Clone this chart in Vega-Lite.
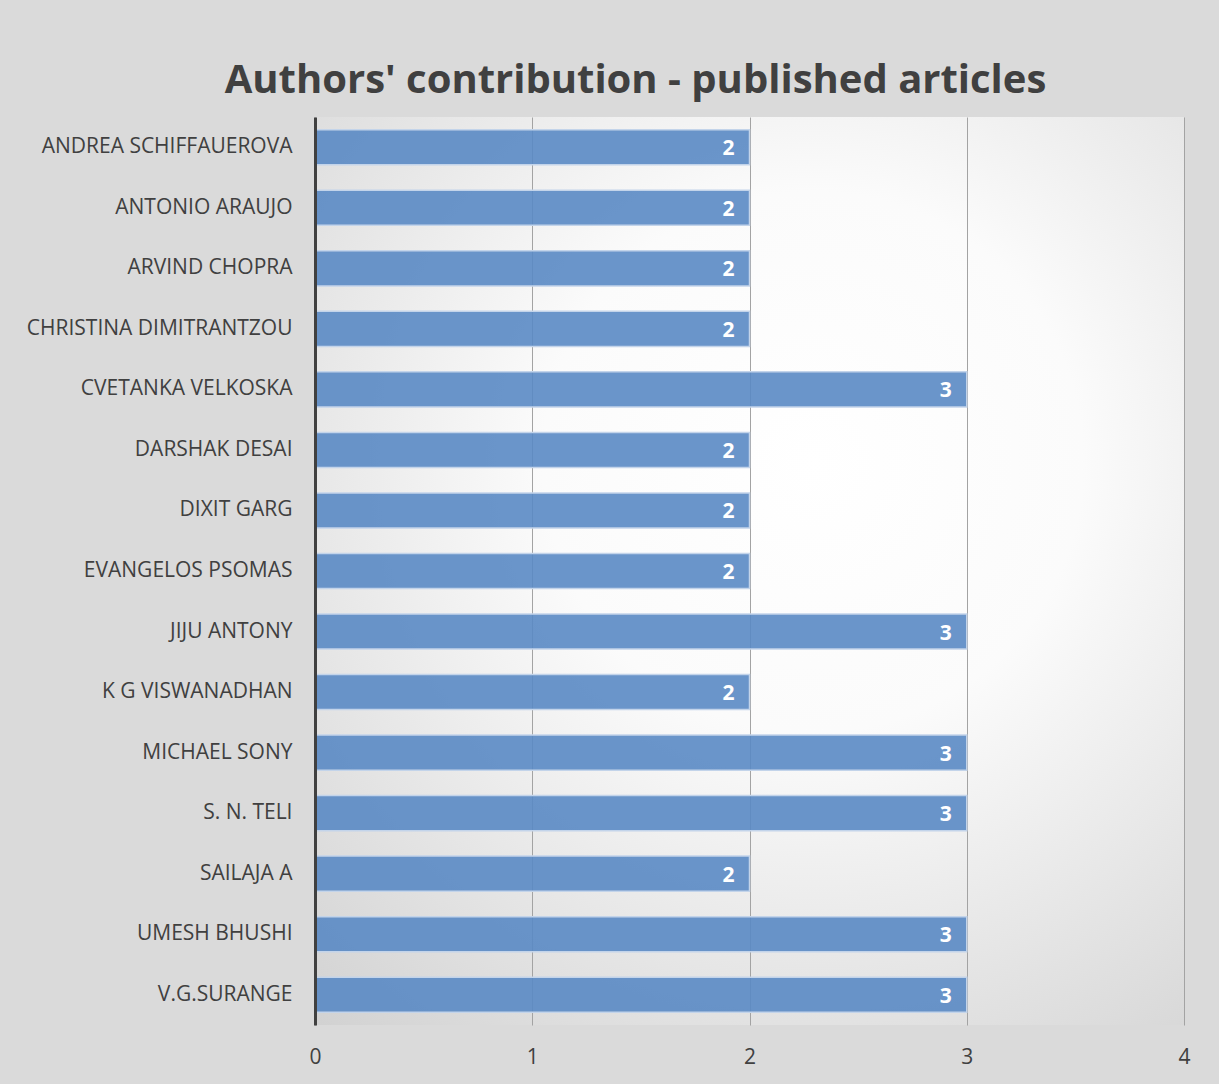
{
  "$schema": "https://vega.github.io/schema/vega-lite/v6.json",
  "autosize": {"type": "none"},
  "padding": {"left": 315, "top": 117, "right": 35, "bottom": 59},
  "width": 869,
  "height": 908,
  "background": "#dadada",
  "title": {
    "text": "Authors' contribution - published articles",
    "font": "Open Sans",
    "fontSize": 40,
    "fontWeight": "bold",
    "color": "#404040",
    "anchor": "middle",
    "dx": -114,
    "offset": 16
  },
  "config": {
    "view": {
      "stroke": null,
      "fill": {
        "gradient": "radial",
        "x1": 0.57, "y1": 0.38, "r1": 0,
        "x2": 0.57, "y2": 0.38, "r2": 0.85,
        "stops": [
          {"offset": 0, "color": "#ffffff"},
          {"offset": 0.35, "color": "#fbfbfb"},
          {"offset": 1, "color": "#d0d0d0"}
        ]
      }
    }
  },
  "data": {
    "values": [
      {"author": "ANDREA SCHIFFAUEROVA", "articles": 2},
      {"author": "ANTONIO ARAUJO", "articles": 2},
      {"author": "ARVIND CHOPRA", "articles": 2},
      {"author": "CHRISTINA DIMITRANTZOU", "articles": 2},
      {"author": "CVETANKA VELKOSKA", "articles": 3},
      {"author": "DARSHAK DESAI", "articles": 2},
      {"author": "DIXIT GARG", "articles": 2},
      {"author": "EVANGELOS PSOMAS", "articles": 2},
      {"author": "JIJU ANTONY", "articles": 3},
      {"author": "K G VISWANADHAN", "articles": 2},
      {"author": "MICHAEL SONY", "articles": 3},
      {"author": "S. N. TELI", "articles": 3},
      {"author": "SAILAJA A", "articles": 2},
      {"author": "UMESH BHUSHI", "articles": 3},
      {"author": "V.G.SURANGE", "articles": 3}
    ]
  },
  "encoding": {
    "y": {
      "field": "author",
      "type": "nominal",
      "sort": null,
      "title": null,
      "scale": {"paddingInner": 0.42, "paddingOuter": 0.21},
      "axis": {
        "zindex": 1,
        "domain": true,
        "domainColor": "#404040",
        "domainWidth": 3,
        "ticks": false,
        "labelFont": "Open Sans",
        "labelFontSize": 21,
        "labelColor": "#404040",
        "labelPadding": 23,
        "labelLimit": 400
      }
    },
    "x": {
      "field": "articles",
      "type": "quantitative",
      "title": null,
      "scale": {"domain": [0, 4]},
      "axis": {
        "values": [0, 1, 2, 3, 4],
        "format": "d",
        "domain": false,
        "ticks": false,
        "grid": true,
        "gridColor": "#a3a3a3",
        "gridWidth": 1,
        "labelFlush": false,
        "labelFont": "Open Sans",
        "labelFontSize": 21,
        "labelColor": "#404040",
        "labelPadding": 21
      }
    }
  },
  "layer": [
    {
      "mark": {
        "type": "bar",
        "fill": "#5a8ac4",
        "fillOpacity": 0.9,
        "stroke": "#c3d4ea",
        "strokeWidth": 1.5
      }
    },
    {
      "mark": {
        "type": "text",
        "align": "right",
        "baseline": "middle",
        "dx": -15,
        "dy": 2,
        "font": "Open Sans",
        "fontSize": 21,
        "fontWeight": "bold",
        "color": "#ffffff"
      },
      "encoding": {"text": {"field": "articles", "type": "quantitative"}}
    }
  ]
}
